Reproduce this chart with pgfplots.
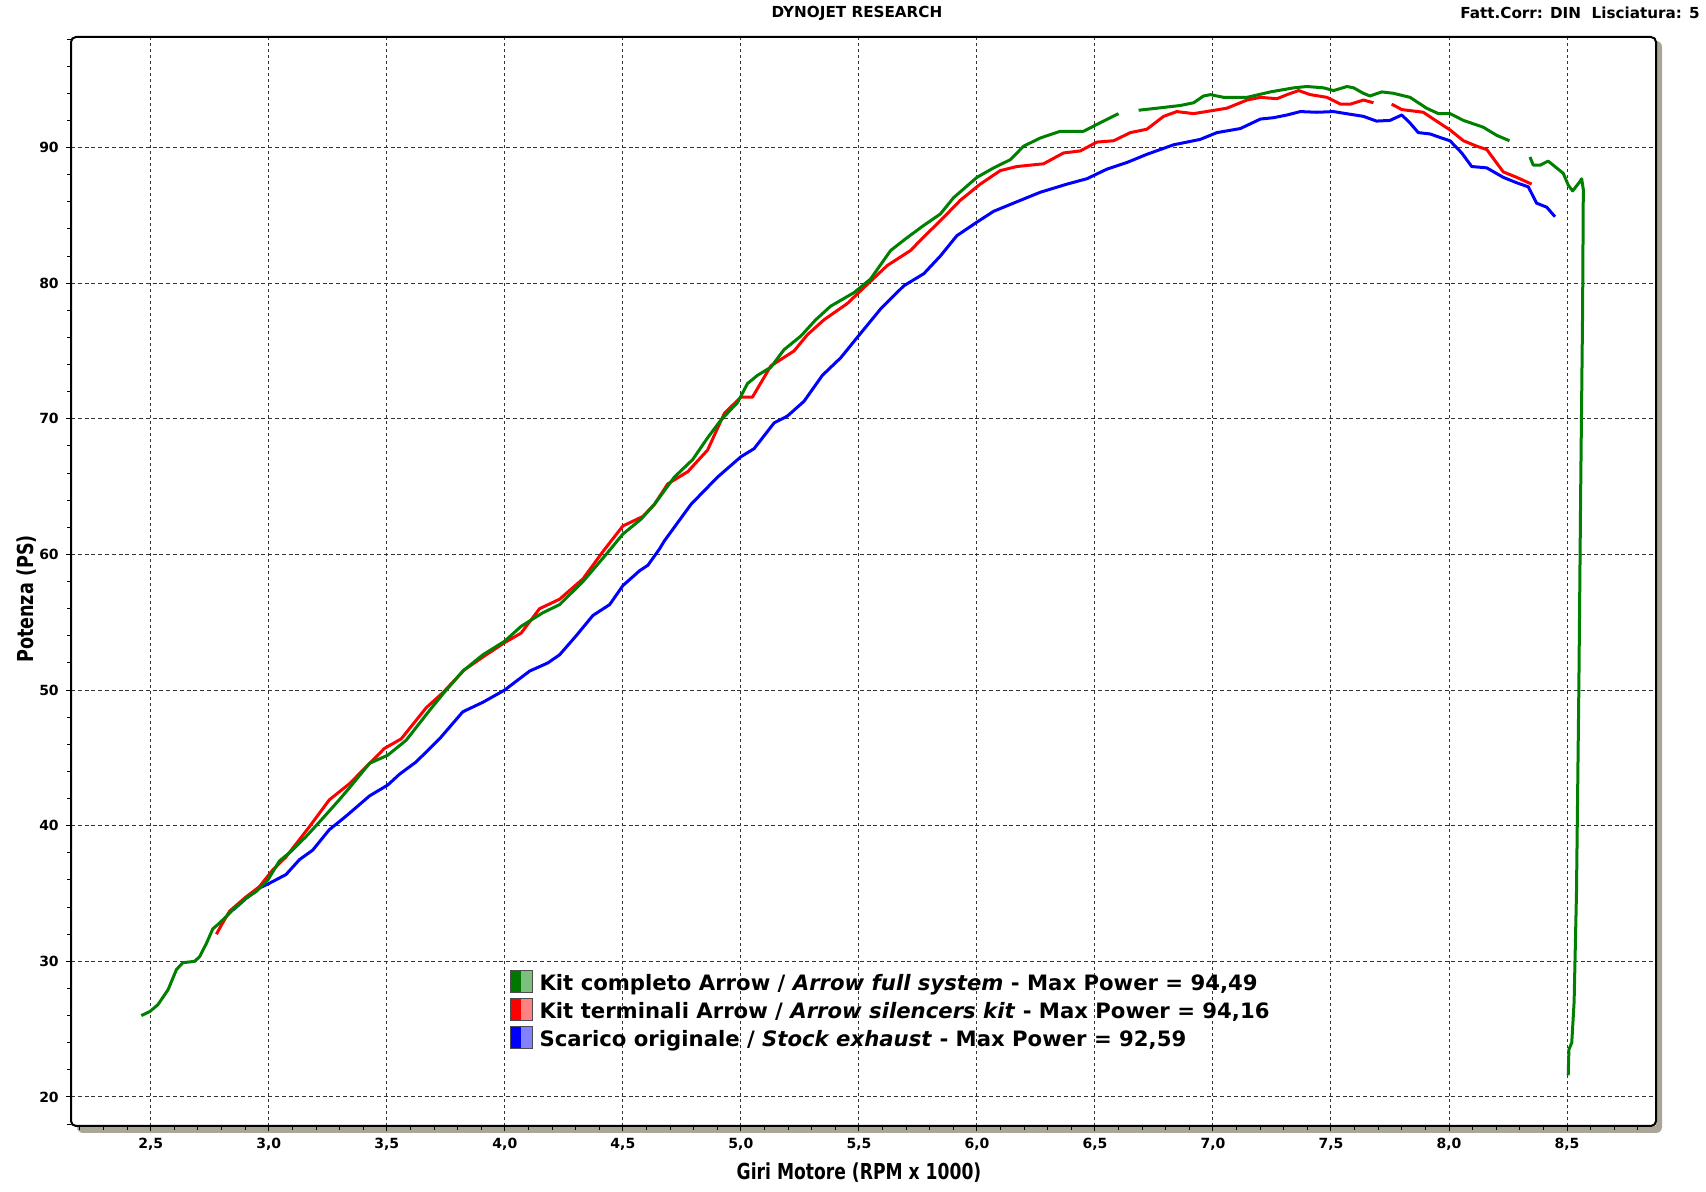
\documentclass[border=0pt]{standalone}
\usepackage{fontspec}
\setmainfont{DejaVu Sans}
\usepackage{graphicx}
\usepackage{pgfplots}
\pgfplotsset{compat=1.18}
\definecolor{cgreen}{RGB}{0,128,0}
\definecolor{cred}{RGB}{255,0,0}
\definecolor{cblue}{RGB}{0,0,255}
\definecolor{gdark}{RGB}{0,120,0}
\definecolor{glight}{RGB}{125,192,125}
\definecolor{rlight}{RGB}{255,130,130}
\definecolor{blight}{RGB}{130,130,255}
\definecolor{shadowgray}{RGB}{170,165,150}
\begin{document}
\begin{tikzpicture}
\path[fill=white] (0,0) rectangle (853pt,596pt);
\fill[shadowgray, rounded corners=3pt] (38.5pt,29.5pt) rectangle (831pt,575.5pt);
\begin{axis}[
  name=ax,
  at={(35.5pt,33pt)}, anchor=south west,
  scale only axis, width=792.5pt, height=544.5pt,
  xmin=2.162, xmax=8.877, ymin=17.86, ymax=98.15,
  axis background/.style={fill=white},
  axis line style={draw=none},
  tick align=outside, tick pos=left,
  xtick={2.5,3,...,8.5},
  minor xtick={2.2,2.3,...,8.8},
  ytick={20,30,...,90},
  minor ytick={18,20,...,98},
  major tick length=2.6pt, minor tick length=2.1pt,
  every tick/.style={black, line width=0.5pt},
  grid=major,
  major x grid style={black!80, line width=0.5pt, dash pattern=on 1.5pt off 1.5pt},
  major y grid style={black!80, line width=0.5pt, dash pattern=on 2pt off 1.4pt},
  /pgf/number format/assume math mode=true,
  xticklabel style={font=\bfseries\fontsize{7}{8}\selectfont, /pgf/number format/.cd, fixed, fixed zerofill, precision=1, use comma},
  yticklabel style={font=\bfseries\fontsize{7}{8}\selectfont},
  legend cell align=left,
  legend style={at={(0.277,0.143)}, anchor=north west, draw=none, fill=none,
    inner sep=0pt, outer sep=0pt, row sep=0pt,
    font=\bfseries\fontsize{10.6}{13}\selectfont,
    nodes={inner sep=0pt, text height=9pt, text depth=3.85pt}},
]
% Stock exhaust (blue)
\addplot[draw=cblue, line width=1.5pt, line join=round, forget plot] coordinates {
(2.850,33.8) (2.904,34.65) (2.960,35.4) (3.003,35.76) (3.073,36.4) (3.130,37.5) (3.186,38.2)
(3.256,39.7) (3.327,40.7) (3.427,42.2) (3.504,43.0) (3.554,43.8) (3.624,44.7) (3.723,46.4)
(3.822,48.4) (3.907,49.1) (3.999,50.0) (4.105,51.4) (4.182,52.0) (4.232,52.6) (4.302,54.0)
(4.373,55.5) (4.444,56.3) (4.500,57.7) (4.571,58.8) (4.606,59.2) (4.655,60.4) (4.676,61.0)
(4.789,63.7) (4.901,65.7) (5.000,67.2) (5.056,67.8) (5.141,69.7) (5.197,70.2) (5.268,71.3)
(5.345,73.2) (5.423,74.5) (5.493,76.0) (5.592,78.1) (5.690,79.8) (5.775,80.7) (5.845,82.0)
(5.915,83.5) (6.000,84.5) (6.071,85.3) (6.155,85.9) (6.268,86.7) (6.381,87.3) (6.466,87.7)
(6.550,88.4) (6.636,88.9) (6.720,89.5) (6.833,90.2) (6.946,90.6) (7.017,91.1) (7.116,91.4)
(7.201,92.1) (7.257,92.2) (7.314,92.4) (7.370,92.65) (7.440,92.6) (7.511,92.65) (7.582,92.45)
(7.637,92.3) (7.693,91.95) (7.750,92.0) (7.800,92.4) (7.835,91.8) (7.870,91.1) (7.920,91.0)
(7.969,90.7) (8.004,90.5) (8.054,89.6) (8.096,88.6) (8.160,88.5) (8.230,87.8) (8.287,87.4)
(8.336,87.1) (8.371,85.9) (8.414,85.6) (8.449,84.9)
};
% Arrow silencers kit (red), two segments
\addplot[draw=cred, line width=1.5pt, line join=round, forget plot] coordinates {
(2.778,32.0) (2.800,32.7) (2.834,33.7) (2.900,34.7) (2.960,35.5) (3.017,36.75) (3.073,37.7)
(3.171,39.9) (3.256,41.9) (3.342,43.1) (3.490,45.7) (3.561,46.4) (3.667,48.7) (3.737,49.8)
(3.829,51.5) (3.921,52.6) (3.999,53.5) (4.069,54.2) (4.147,56.0) (4.232,56.7) (4.331,58.2)
(4.415,60.2) (4.500,62.1) (4.585,62.8) (4.634,63.7) (4.690,65.2) (4.775,66.1) (4.859,67.7)
(4.930,70.4) (5.000,71.6) (5.049,71.6) (5.127,73.9) (5.225,75.0) (5.282,76.2) (5.352,77.3)
(5.451,78.5) (5.535,79.9) (5.620,81.3) (5.718,82.4) (5.780,83.5) (5.845,84.6) (5.929,86.1)
(6.014,87.3) (6.099,88.3) (6.169,88.6) (6.282,88.8) (6.367,89.6) (6.438,89.75) (6.508,90.4)
(6.579,90.5) (6.650,91.1) (6.720,91.35) (6.791,92.3) (6.847,92.65) (6.918,92.5) (6.989,92.7)
(7.059,92.9) (7.144,93.5) (7.201,93.7) (7.271,93.6) (7.314,93.9) (7.363,94.2) (7.412,93.9)
(7.483,93.7) (7.540,93.2) (7.582,93.2) (7.638,93.5) (7.680,93.3)
};
\addplot[draw=cred, line width=1.5pt, line join=round, forget plot] coordinates {
(7.757,93.2) (7.800,92.8) (7.891,92.6) (7.934,92.1) (8.004,91.3) (8.061,90.5) (8.117,90.1)
(8.160,89.85) (8.230,88.2) (8.287,87.8) (8.350,87.3)
};
% Arrow full system (green), three segments
\addplot[draw=cgreen, line width=1.5pt, line join=round, forget plot] coordinates {
(2.460,26.0) (2.496,26.3) (2.530,26.8) (2.573,27.9) (2.609,29.4) (2.636,29.9) (2.686,30.0)
(2.707,30.35) (2.735,31.3) (2.763,32.4) (2.790,32.8) (2.848,33.8) (2.904,34.65) (2.947,35.15)
(2.996,36.0) (3.045,37.4) (3.094,38.1) (3.158,39.2) (3.221,40.4) (3.257,41.1) (3.298,41.9)
(3.342,42.8) (3.427,44.6) (3.504,45.2) (3.582,46.3) (3.681,48.5) (3.737,49.7) (3.822,51.4)
(3.907,52.6) (3.999,53.6) (4.069,54.7) (4.161,55.7) (4.232,56.3) (4.331,58.0) (4.429,60.0)
(4.500,61.5) (4.577,62.6) (4.634,63.7) (4.718,65.7) (4.796,67.0) (4.859,68.6) (4.915,69.9)
(4.986,71.2) (5.028,72.6) (5.070,73.2) (5.127,73.8) (5.183,75.1) (5.254,76.1) (5.317,77.3)
(5.380,78.3) (5.479,79.3) (5.549,80.3) (5.634,82.4) (5.700,83.3) (5.770,84.2) (5.845,85.1)
(5.901,86.3) (6.000,87.8) (6.071,88.5) (6.141,89.1) (6.198,90.1) (6.268,90.7) (6.353,91.2)
(6.452,91.2) (6.508,91.7) (6.600,92.5)
};
\addplot[draw=cgreen, line width=1.5pt, line join=round, forget plot] coordinates {
(6.685,92.75) (6.763,92.9) (6.862,93.1) (6.918,93.3) (6.960,93.8) (6.989,93.9) (7.045,93.7)
(7.144,93.7) (7.243,94.1) (7.342,94.4) (7.398,94.5) (7.469,94.4) (7.511,94.2) (7.568,94.5)
(7.596,94.4) (7.637,94.0) (7.665,93.8) (7.715,94.1) (7.764,94.0) (7.835,93.7) (7.905,92.9)
(7.955,92.5) (8.004,92.5) (8.061,92.0) (8.145,91.5) (8.202,90.9) (8.256,90.5)
};
\addplot[draw=cgreen, line width=1.5pt, line join=round, forget plot] coordinates {
(8.343,89.3) (8.357,88.7) (8.386,88.7) (8.420,89.0) (8.484,88.1) (8.506,87.2) (8.524,86.8)
(8.555,87.5) (8.562,87.7) (8.569,86.9) (8.566,78.0) (8.558,65.0) (8.550,50.0) (8.540,35.0)
(8.530,27.0) (8.520,24.0) (8.508,23.5) (8.505,21.6)
};
% legend
\addlegendimage{legend image code/.code={
  \path[draw=none, fill=none] (0pt,0pt) rectangle (14.5pt,0.1pt);
  \fill[gdark] (0pt,-3.75pt) rectangle (5.5pt,7.25pt);
  \fill[glight] (5.5pt,-3.75pt) rectangle (11pt,7.25pt);
  \draw[black!70, line width=0.5pt] (0pt,-3.75pt) rectangle (11pt,7.25pt);}}
\addlegendentry{Kit completo Arrow / \textit{Arrow full system} - Max Power = 94,49}
\addlegendimage{legend image code/.code={
  \path[draw=none, fill=none] (0pt,0pt) rectangle (14.5pt,0.1pt);
  \fill[cred] (0pt,-3.75pt) rectangle (5.5pt,7.25pt);
  \fill[rlight] (5.5pt,-3.75pt) rectangle (11pt,7.25pt);
  \draw[black!70, line width=0.5pt] (0pt,-3.75pt) rectangle (11pt,7.25pt);}}
\addlegendentry{Kit terminali Arrow / \textit{Arrow silencers kit} - Max Power = 94,16}
\addlegendimage{legend image code/.code={
  \path[draw=none, fill=none] (0pt,0pt) rectangle (14.5pt,0.1pt);
  \fill[cblue] (0pt,-3.75pt) rectangle (5.5pt,7.25pt);
  \fill[blight] (5.5pt,-3.75pt) rectangle (11pt,7.25pt);
  \draw[black!70, line width=0.5pt] (0pt,-3.75pt) rectangle (11pt,7.25pt);}}
\addlegendentry{Scarico originale / \textit{Stock exhaust} - Max Power = 92,59}
\end{axis}
\draw[black, line width=1pt, rounded corners=2.5pt] (ax.south west) rectangle (ax.north east);
\node[font=\bfseries\fontsize{7.6}{9}\selectfont, inner sep=0pt] at (428.5pt,589.5pt) {DYNOJET RESEARCH};
\node[font=\bfseries\fontsize{7.6}{9}\selectfont, inner sep=0pt, anchor=east] at (850pt,589.5pt) {Fatt.Corr: DIN\ \ Lisciatura: 5};
\node[font=\bfseries\fontsize{11}{13}\selectfont, inner sep=0pt] at (429.5pt,9.5pt) {\scalebox{0.78}[1]{Giri Motore (RPM x 1000)}};
\node[font=\bfseries\fontsize{11}{13}\selectfont, inner sep=0pt, rotate=90] at (13.5pt,296.5pt) {\scalebox{0.8}[1]{Potenza (PS)}};
\end{tikzpicture}
\end{document}
